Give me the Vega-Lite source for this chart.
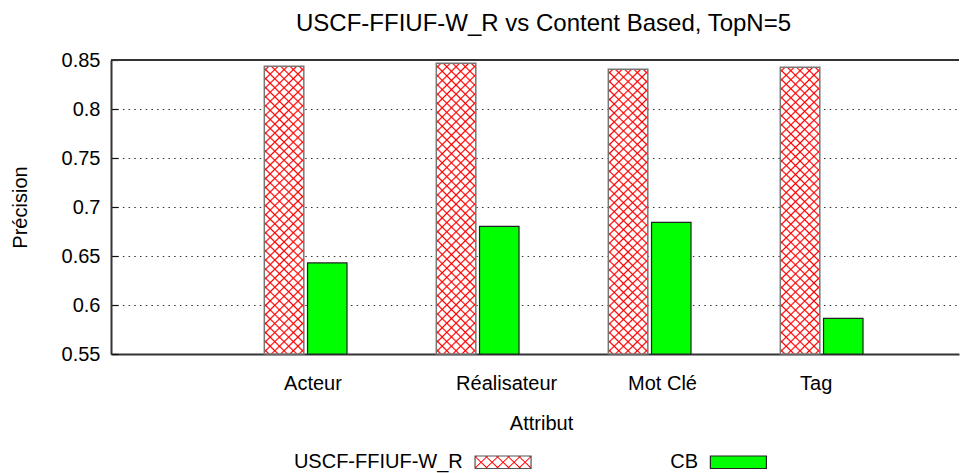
{
  "$schema": "https://vega.github.io/schema/vega-lite/v6.json",
  "background": "white",
  "padding": {"left": 10, "top": 12, "right": 0, "bottom": 0},
  "title": {
    "text": "USCF-FFIUF-W_R vs Content Based, TopN=5",
    "font": "Liberation Sans",
    "fontSize": 24,
    "fontWeight": "normal",
    "color": "black",
    "anchor": "start",
    "frame": "group",
    "dx": 185,
    "offset": 14
  },
  "config": {
    "font": "Liberation Sans",
    "view": {"stroke": null},
    "concat": {"spacing": 19}
  },
  "datasets": {
    "bars": [
      {"attr": "Acteur", "s": "USCF-FFIUF-W_R", "v": 0.8436},
      {"attr": "Acteur", "s": "CB", "v": 0.6429},
      {"attr": "Réalisateur", "s": "USCF-FFIUF-W_R", "v": 0.8466},
      {"attr": "Réalisateur", "s": "CB", "v": 0.6803},
      {"attr": "Mot Clé", "s": "USCF-FFIUF-W_R", "v": 0.8405},
      {"attr": "Mot Clé", "s": "CB", "v": 0.6844},
      {"attr": "Tag", "s": "USCF-FFIUF-W_R", "v": 0.8425},
      {"attr": "Tag", "s": "CB", "v": 0.5864}
    ],
    "legend": [
      {"s": "USCF-FFIUF-W_R"},
      {"s": "CB"}
    ]
  },
  "vconcat": [
    {
      "width": 848,
      "height": 294,
      "data": {"name": "bars"},
      "layer": [
        {
          "encoding": {
            "x": {
              "field": "attr",
              "type": "nominal",
              "sort": ["Acteur", "Réalisateur", "Mot Clé", "Tag"],
              "scale": {"paddingInner": 0.5192, "paddingOuter": 0.7247, "align": 0.615},
              "axis": {
                "title": "Attribut",
                "labelAngle": 0,
                "labelAlign": "left",
                "labelOffset": -21.6,
                "ticks": false,
                "labelFontSize": 20,
                "labelColor": "black",
                "labelPadding": 19,
                "titleFontSize": 20,
                "titleFontWeight": "normal",
                "titleColor": "black",
                "titlePadding": 20,
                "titleX": 430,
                "domainColor": "#333",
                "domainWidth": 2
              }
            },
            "xOffset": {
              "field": "s",
              "type": "nominal",
              "scale": {"domain": ["USCF-FFIUF-W_R", "CB"], "paddingInner": 0.086, "paddingOuter": 0}
            },
            "y": {
              "field": "v",
              "type": "quantitative",
              "scale": {"domain": [0.55, 0.85], "nice": false, "zero": false},
              "axis": {
                "title": "Précision",
                "values": [0.55, 0.6, 0.65, 0.7, 0.75, 0.8, 0.85],
                "format": ".2~f",
                "labelFontSize": 20,
                "labelColor": "black",
                "labelPadding": 18,
                "titleFontSize": 20,
                "titleFontWeight": "normal",
                "titleColor": "black",
                "titlePadding": 30.5,
                "grid": true,
                "gridDash": [1.5, 4.2],
                "gridColor": "#333",
                "gridWidth": 1,
                "tickSize": -7,
                "tickColor": "#111",
                "tickWidth": 1.2,
                "domainColor": "#333",
                "domainWidth": 2
              }
            },
            "y2": {"datum": 0.55}
          },
          "layer": [
            {
              "transform": [{"filter": "datum.s === 'USCF-FFIUF-W_R'"}],
              "mark": {
                "type": "bar",
                "fill": {
                  "gradient": "linear",
                  "x1": 0, "y1": 0, "x2": 0.1499, "y2": 1.1144,
                  "stops": [
                    {"offset": 0, "color": "white"},
                    {"offset": 0.00889, "color": "white"}, {"offset": 0.01389, "color": "red"}, {"offset": 0.01889, "color": "white"},
                    {"offset": 0.03667, "color": "white"}, {"offset": 0.04167, "color": "red"}, {"offset": 0.04667, "color": "white"},
                    {"offset": 0.06444, "color": "white"}, {"offset": 0.06944, "color": "red"}, {"offset": 0.07444, "color": "white"},
                    {"offset": 0.09222, "color": "white"}, {"offset": 0.09722, "color": "red"}, {"offset": 0.10222, "color": "white"},
                    {"offset": 0.12, "color": "white"}, {"offset": 0.125, "color": "red"}, {"offset": 0.13, "color": "white"},
                    {"offset": 0.14778, "color": "white"}, {"offset": 0.15278, "color": "red"}, {"offset": 0.15778, "color": "white"},
                    {"offset": 0.17556, "color": "white"}, {"offset": 0.18056, "color": "red"}, {"offset": 0.18556, "color": "white"},
                    {"offset": 0.20333, "color": "white"}, {"offset": 0.20833, "color": "red"}, {"offset": 0.21333, "color": "white"},
                    {"offset": 0.23111, "color": "white"}, {"offset": 0.23611, "color": "red"}, {"offset": 0.24111, "color": "white"},
                    {"offset": 0.25889, "color": "white"}, {"offset": 0.26389, "color": "red"}, {"offset": 0.26889, "color": "white"},
                    {"offset": 0.28667, "color": "white"}, {"offset": 0.29167, "color": "red"}, {"offset": 0.29667, "color": "white"},
                    {"offset": 0.31444, "color": "white"}, {"offset": 0.31944, "color": "red"}, {"offset": 0.32444, "color": "white"},
                    {"offset": 0.34222, "color": "white"}, {"offset": 0.34722, "color": "red"}, {"offset": 0.35222, "color": "white"},
                    {"offset": 0.37, "color": "white"}, {"offset": 0.375, "color": "red"}, {"offset": 0.38, "color": "white"},
                    {"offset": 0.39778, "color": "white"}, {"offset": 0.40278, "color": "red"}, {"offset": 0.40778, "color": "white"},
                    {"offset": 0.42556, "color": "white"}, {"offset": 0.43056, "color": "red"}, {"offset": 0.43556, "color": "white"},
                    {"offset": 0.45333, "color": "white"}, {"offset": 0.45833, "color": "red"}, {"offset": 0.46333, "color": "white"},
                    {"offset": 0.48111, "color": "white"}, {"offset": 0.48611, "color": "red"}, {"offset": 0.49111, "color": "white"},
                    {"offset": 0.50889, "color": "white"}, {"offset": 0.51389, "color": "red"}, {"offset": 0.51889, "color": "white"},
                    {"offset": 0.53667, "color": "white"}, {"offset": 0.54167, "color": "red"}, {"offset": 0.54667, "color": "white"},
                    {"offset": 0.56444, "color": "white"}, {"offset": 0.56944, "color": "red"}, {"offset": 0.57444, "color": "white"},
                    {"offset": 0.59222, "color": "white"}, {"offset": 0.59722, "color": "red"}, {"offset": 0.60222, "color": "white"},
                    {"offset": 0.62, "color": "white"}, {"offset": 0.625, "color": "red"}, {"offset": 0.63, "color": "white"},
                    {"offset": 0.64778, "color": "white"}, {"offset": 0.65278, "color": "red"}, {"offset": 0.65778, "color": "white"},
                    {"offset": 0.67556, "color": "white"}, {"offset": 0.68056, "color": "red"}, {"offset": 0.68556, "color": "white"},
                    {"offset": 0.70333, "color": "white"}, {"offset": 0.70833, "color": "red"}, {"offset": 0.71333, "color": "white"},
                    {"offset": 0.73111, "color": "white"}, {"offset": 0.73611, "color": "red"}, {"offset": 0.74111, "color": "white"},
                    {"offset": 0.75889, "color": "white"}, {"offset": 0.76389, "color": "red"}, {"offset": 0.76889, "color": "white"},
                    {"offset": 0.78667, "color": "white"}, {"offset": 0.79167, "color": "red"}, {"offset": 0.79667, "color": "white"},
                    {"offset": 0.81444, "color": "white"}, {"offset": 0.81944, "color": "red"}, {"offset": 0.82444, "color": "white"},
                    {"offset": 0.84222, "color": "white"}, {"offset": 0.84722, "color": "red"}, {"offset": 0.85222, "color": "white"},
                    {"offset": 0.87, "color": "white"}, {"offset": 0.875, "color": "red"}, {"offset": 0.88, "color": "white"},
                    {"offset": 0.89778, "color": "white"}, {"offset": 0.90278, "color": "red"}, {"offset": 0.90778, "color": "white"},
                    {"offset": 0.92556, "color": "white"}, {"offset": 0.93056, "color": "red"}, {"offset": 0.93556, "color": "white"},
                    {"offset": 0.95333, "color": "white"}, {"offset": 0.95833, "color": "red"}, {"offset": 0.96333, "color": "white"},
                    {"offset": 0.98111, "color": "white"}, {"offset": 0.98611, "color": "red"}, {"offset": 0.99111, "color": "white"},
                    {"offset": 1, "color": "white"}
                  ]
                }
              }
            },
            {
              "transform": [{"filter": "datum.s === 'USCF-FFIUF-W_R'"}],
              "mark": {
                "type": "bar",
                "stroke": "#777",
                "strokeWidth": 1.5,
                "fill": {
                  "gradient": "linear",
                  "x1": 1, "y1": 0, "x2": 0.8501, "y2": 1.1144,
                  "stops": [
                    {"offset": 0, "color": "rgba(255,0,0,0)"},
                    {"offset": 0.00889, "color": "rgba(255,0,0,0)"}, {"offset": 0.01389, "color": "red"}, {"offset": 0.01889, "color": "rgba(255,0,0,0)"},
                    {"offset": 0.03667, "color": "rgba(255,0,0,0)"}, {"offset": 0.04167, "color": "red"}, {"offset": 0.04667, "color": "rgba(255,0,0,0)"},
                    {"offset": 0.06444, "color": "rgba(255,0,0,0)"}, {"offset": 0.06944, "color": "red"}, {"offset": 0.07444, "color": "rgba(255,0,0,0)"},
                    {"offset": 0.09222, "color": "rgba(255,0,0,0)"}, {"offset": 0.09722, "color": "red"}, {"offset": 0.10222, "color": "rgba(255,0,0,0)"},
                    {"offset": 0.12, "color": "rgba(255,0,0,0)"}, {"offset": 0.125, "color": "red"}, {"offset": 0.13, "color": "rgba(255,0,0,0)"},
                    {"offset": 0.14778, "color": "rgba(255,0,0,0)"}, {"offset": 0.15278, "color": "red"}, {"offset": 0.15778, "color": "rgba(255,0,0,0)"},
                    {"offset": 0.17556, "color": "rgba(255,0,0,0)"}, {"offset": 0.18056, "color": "red"}, {"offset": 0.18556, "color": "rgba(255,0,0,0)"},
                    {"offset": 0.20333, "color": "rgba(255,0,0,0)"}, {"offset": 0.20833, "color": "red"}, {"offset": 0.21333, "color": "rgba(255,0,0,0)"},
                    {"offset": 0.23111, "color": "rgba(255,0,0,0)"}, {"offset": 0.23611, "color": "red"}, {"offset": 0.24111, "color": "rgba(255,0,0,0)"},
                    {"offset": 0.25889, "color": "rgba(255,0,0,0)"}, {"offset": 0.26389, "color": "red"}, {"offset": 0.26889, "color": "rgba(255,0,0,0)"},
                    {"offset": 0.28667, "color": "rgba(255,0,0,0)"}, {"offset": 0.29167, "color": "red"}, {"offset": 0.29667, "color": "rgba(255,0,0,0)"},
                    {"offset": 0.31444, "color": "rgba(255,0,0,0)"}, {"offset": 0.31944, "color": "red"}, {"offset": 0.32444, "color": "rgba(255,0,0,0)"},
                    {"offset": 0.34222, "color": "rgba(255,0,0,0)"}, {"offset": 0.34722, "color": "red"}, {"offset": 0.35222, "color": "rgba(255,0,0,0)"},
                    {"offset": 0.37, "color": "rgba(255,0,0,0)"}, {"offset": 0.375, "color": "red"}, {"offset": 0.38, "color": "rgba(255,0,0,0)"},
                    {"offset": 0.39778, "color": "rgba(255,0,0,0)"}, {"offset": 0.40278, "color": "red"}, {"offset": 0.40778, "color": "rgba(255,0,0,0)"},
                    {"offset": 0.42556, "color": "rgba(255,0,0,0)"}, {"offset": 0.43056, "color": "red"}, {"offset": 0.43556, "color": "rgba(255,0,0,0)"},
                    {"offset": 0.45333, "color": "rgba(255,0,0,0)"}, {"offset": 0.45833, "color": "red"}, {"offset": 0.46333, "color": "rgba(255,0,0,0)"},
                    {"offset": 0.48111, "color": "rgba(255,0,0,0)"}, {"offset": 0.48611, "color": "red"}, {"offset": 0.49111, "color": "rgba(255,0,0,0)"},
                    {"offset": 0.50889, "color": "rgba(255,0,0,0)"}, {"offset": 0.51389, "color": "red"}, {"offset": 0.51889, "color": "rgba(255,0,0,0)"},
                    {"offset": 0.53667, "color": "rgba(255,0,0,0)"}, {"offset": 0.54167, "color": "red"}, {"offset": 0.54667, "color": "rgba(255,0,0,0)"},
                    {"offset": 0.56444, "color": "rgba(255,0,0,0)"}, {"offset": 0.56944, "color": "red"}, {"offset": 0.57444, "color": "rgba(255,0,0,0)"},
                    {"offset": 0.59222, "color": "rgba(255,0,0,0)"}, {"offset": 0.59722, "color": "red"}, {"offset": 0.60222, "color": "rgba(255,0,0,0)"},
                    {"offset": 0.62, "color": "rgba(255,0,0,0)"}, {"offset": 0.625, "color": "red"}, {"offset": 0.63, "color": "rgba(255,0,0,0)"},
                    {"offset": 0.64778, "color": "rgba(255,0,0,0)"}, {"offset": 0.65278, "color": "red"}, {"offset": 0.65778, "color": "rgba(255,0,0,0)"},
                    {"offset": 0.67556, "color": "rgba(255,0,0,0)"}, {"offset": 0.68056, "color": "red"}, {"offset": 0.68556, "color": "rgba(255,0,0,0)"},
                    {"offset": 0.70333, "color": "rgba(255,0,0,0)"}, {"offset": 0.70833, "color": "red"}, {"offset": 0.71333, "color": "rgba(255,0,0,0)"},
                    {"offset": 0.73111, "color": "rgba(255,0,0,0)"}, {"offset": 0.73611, "color": "red"}, {"offset": 0.74111, "color": "rgba(255,0,0,0)"},
                    {"offset": 0.75889, "color": "rgba(255,0,0,0)"}, {"offset": 0.76389, "color": "red"}, {"offset": 0.76889, "color": "rgba(255,0,0,0)"},
                    {"offset": 0.78667, "color": "rgba(255,0,0,0)"}, {"offset": 0.79167, "color": "red"}, {"offset": 0.79667, "color": "rgba(255,0,0,0)"},
                    {"offset": 0.81444, "color": "rgba(255,0,0,0)"}, {"offset": 0.81944, "color": "red"}, {"offset": 0.82444, "color": "rgba(255,0,0,0)"},
                    {"offset": 0.84222, "color": "rgba(255,0,0,0)"}, {"offset": 0.84722, "color": "red"}, {"offset": 0.85222, "color": "rgba(255,0,0,0)"},
                    {"offset": 0.87, "color": "rgba(255,0,0,0)"}, {"offset": 0.875, "color": "red"}, {"offset": 0.88, "color": "rgba(255,0,0,0)"},
                    {"offset": 0.89778, "color": "rgba(255,0,0,0)"}, {"offset": 0.90278, "color": "red"}, {"offset": 0.90778, "color": "rgba(255,0,0,0)"},
                    {"offset": 0.92556, "color": "rgba(255,0,0,0)"}, {"offset": 0.93056, "color": "red"}, {"offset": 0.93556, "color": "rgba(255,0,0,0)"},
                    {"offset": 0.95333, "color": "rgba(255,0,0,0)"}, {"offset": 0.95833, "color": "red"}, {"offset": 0.96333, "color": "rgba(255,0,0,0)"},
                    {"offset": 0.98111, "color": "rgba(255,0,0,0)"}, {"offset": 0.98611, "color": "red"}, {"offset": 0.99111, "color": "rgba(255,0,0,0)"},
                    {"offset": 1, "color": "rgba(255,0,0,0)"}
                  ]
                }
              }
            },
            {
              "transform": [{"filter": "datum.s === 'CB'"}],
              "mark": {"type": "bar", "fill": "#00ff00", "stroke": "#222", "strokeWidth": 1.2}
            }
          ]
        },
        {
          "mark": {"type": "rule", "color": "#333", "strokeWidth": 2},
          "encoding": {"y": {"datum": 0.85}}
        }
      ]
    },
    {
      "width": 762,
      "height": 12.5,
      "data": {"name": "legend"},
      "encoding": {
        "x": {
          "field": "s",
          "type": "nominal",
          "sort": ["USCF-FFIUF-W_R", "CB"],
          "scale": {"paddingInner": 0.762, "paddingOuter": 1, "align": 0.7735},
          "axis": null
        }
      },
      "layer": [
        {
          "transform": [{"filter": "datum.s === 'USCF-FFIUF-W_R'"}],
          "mark": {
            "type": "rect",
            "fill": {
              "gradient": "linear",
              "x1": 0, "y1": 0, "x2": 1.169, "y2": 0.2714,
              "stops": [
                {"offset": 0, "color": "white"},
                {"offset": 0.00174, "color": "white"}, {"offset": 0.02174, "color": "red"}, {"offset": 0.04174, "color": "white"},
                {"offset": 0.16116, "color": "white"}, {"offset": 0.18116, "color": "red"}, {"offset": 0.20116, "color": "white"},
                {"offset": 0.32058, "color": "white"}, {"offset": 0.34058, "color": "red"}, {"offset": 0.36058, "color": "white"},
                {"offset": 0.48, "color": "white"}, {"offset": 0.5, "color": "red"}, {"offset": 0.52, "color": "white"},
                {"offset": 0.63942, "color": "white"}, {"offset": 0.65942, "color": "red"}, {"offset": 0.67942, "color": "white"},
                {"offset": 0.79884, "color": "white"}, {"offset": 0.81884, "color": "red"}, {"offset": 0.83884, "color": "white"},
                {"offset": 0.95826, "color": "white"}, {"offset": 0.97826, "color": "red"}, {"offset": 0.99826, "color": "white"},
                {"offset": 1, "color": "white"}
              ]
            }
          }
        },
        {
          "transform": [{"filter": "datum.s === 'USCF-FFIUF-W_R'"}],
          "mark": {
            "type": "rect",
            "stroke": "#555",
            "strokeWidth": 1.2,
            "fill": {
              "gradient": "linear",
              "x1": 1, "y1": 0, "x2": -0.169, "y2": 0.2714,
              "stops": [
                {"offset": 0, "color": "rgba(255,0,0,0)"},
                {"offset": 0.00174, "color": "rgba(255,0,0,0)"}, {"offset": 0.02174, "color": "red"}, {"offset": 0.04174, "color": "rgba(255,0,0,0)"},
                {"offset": 0.16116, "color": "rgba(255,0,0,0)"}, {"offset": 0.18116, "color": "red"}, {"offset": 0.20116, "color": "rgba(255,0,0,0)"},
                {"offset": 0.32058, "color": "rgba(255,0,0,0)"}, {"offset": 0.34058, "color": "red"}, {"offset": 0.36058, "color": "rgba(255,0,0,0)"},
                {"offset": 0.48, "color": "rgba(255,0,0,0)"}, {"offset": 0.5, "color": "red"}, {"offset": 0.52, "color": "rgba(255,0,0,0)"},
                {"offset": 0.63942, "color": "rgba(255,0,0,0)"}, {"offset": 0.65942, "color": "red"}, {"offset": 0.67942, "color": "rgba(255,0,0,0)"},
                {"offset": 0.79884, "color": "rgba(255,0,0,0)"}, {"offset": 0.81884, "color": "red"}, {"offset": 0.83884, "color": "rgba(255,0,0,0)"},
                {"offset": 0.95826, "color": "rgba(255,0,0,0)"}, {"offset": 0.97826, "color": "red"}, {"offset": 0.99826, "color": "rgba(255,0,0,0)"},
                {"offset": 1, "color": "rgba(255,0,0,0)"}
              ]
            }
          }
        },
        {
          "transform": [{"filter": "datum.s === 'CB'"}],
          "mark": {"type": "rect", "fill": "#00ff00", "stroke": "#222", "strokeWidth": 1.2}
        },
        {
          "mark": {"type": "text", "align": "right", "baseline": "middle", "dx": -40.3, "fontSize": 20, "font": "Liberation Sans", "color": "black"},
          "encoding": {"text": {"field": "s", "type": "nominal"}}
        }
      ]
    }
  ]
}
